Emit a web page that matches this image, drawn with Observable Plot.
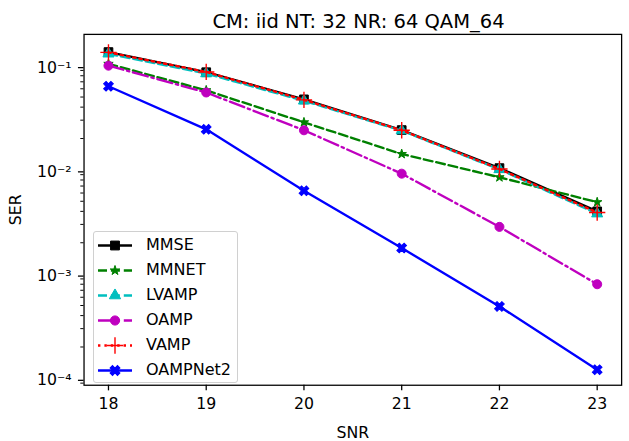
<!DOCTYPE html>
<html><head><meta charset="utf-8">
<script src="https://cdn.jsdelivr.net/npm/d3@7"></script>
<script src="https://cdn.jsdelivr.net/npm/@observablehq/plot@0.6"></script>
<style>
body{margin:0;background:#fff;width:629px;height:441px;overflow:hidden;position:relative;font-family:"DejaVu Sans",sans-serif;}
#title{position:absolute;left:85px;width:547px;top:12px;text-align:center;font-size:19.5px;line-height:19.5px;color:#000;white-space:nowrap;}
#chart{position:absolute;left:0;top:28px;}
#chart svg{display:block;}
#legend{position:absolute;left:93px;top:231px;width:143px;height:150px;border:1px solid #d0d0d0;border-radius:3px;background:rgba(255,255,255,0.8);}
.row{position:absolute;left:0;height:25px;width:143px;}
.row svg{position:absolute;left:0;top:0;}
.row span{position:absolute;left:52px;top:2px;font-size:16px;line-height:20px;color:#000;}
</style></head><body>
<div id="title">CM: iid NT: 32 NR: 64 QAM_64</div>
<div id="chart"></div>
<div id="legend"></div>
<script>
// ---- data ----
const snr = [18, 19, 20, 21, 22, 23];
const seriesNames = ["MMSE", "MMNET", "LVAMP", "OAMP", "VAMP", "OAMPNet2"];
const mmse     = [0.135, 0.0865, 0.0475, 0.0241, 0.0104, 0.0040];
const mmnet    = [0.104, 0.058, 0.0286, 0.0142, 0.0085, 0.0049];
const lvamp    = [0.130, 0.084, 0.046, 0.0238, 0.0101, 0.0038];
const oamp     = [0.100, 0.0553, 0.0240, 0.0092, 0.00284, 0.00080];
const vamp     = [0.134, 0.087, 0.047, 0.0240, 0.0102, 0.0039];
const oampnet2 = [0.0634, 0.0245, 0.0063, 0.00178, 0.00049, 0.000121];
const xTicks = [18, 19, 20, 21, 22, 23];
const yTicks = [1e-4, 1e-3, 1e-2, 1e-1];
const yTickLabels = ["10⁻⁴", "10⁻³", "10⁻²", "10⁻¹"];

// ---- styles ----
const styles = [
  {color: "#000000", dash: null,            symbol: "square",   r: 5.0, fill: true},
  {color: "#008000", dash: "9,3.9",         symbol: "star",     r: 3.0, fill: true},
  {color: "#00bfbf", dash: "9,3.9",         symbol: "triangle", r: 4.2, fill: true},
  {color: "#bf00bf", dash: "15.6,3.9,2.4,3.9", symbol: "circle", r: 4.6, fill: true},
  {color: "#ff0000", dash: "2.4,4",         symbol: "plus",     r: 5.4, fill: false},
  {color: "#0000ff", dash: null,            symbol: "cross",    r: 4.4, fill: true, rotate: 45}
];
const allValues = [mmse, mmnet, lvamp, oamp, vamp, oampnet2];

const marks = [];
seriesNames.forEach((name, i) => {
  const rows = snr.map((s, j) => ({series: name, snr: s, ser: allValues[i][j]}));
  const st = styles[i];
  marks.push(Plot.line(rows, {x: "snr", y: "ser", stroke: st.color, strokeWidth: 2.4,
    strokeDasharray: st.dash ?? undefined}));
  marks.push(Plot.dot(rows, {x: "snr", y: "ser", symbol: st.symbol, r: st.r,
    fill: st.fill ? st.color : "none", stroke: st.color, strokeWidth: st.fill ? 1 : 1.4,
    rotate: st.rotate ?? 0}));
});

const minorTicks = [];
for (let e = -5; e <= -1; e++) for (let m = 2; m <= 9; m++) {
  const v = m * Math.pow(10, e);
  if (v > Math.pow(10, -4.066) && v < Math.pow(10, -0.70)) minorTicks.push(v);
}

const chart = Plot.plot({
  width: 640, height: 413,
  marginLeft: 85, marginRight: 8, marginTop: 6, marginBottom: 50,
  style: {fontFamily: "DejaVu Sans", fontSize: "16px", background: "transparent", color: "#000", overflow: "visible"},
  x: {domain: [17.75, 23.25]},
  y: {type: "log", domain: [Math.pow(10, -4.066), Math.pow(10, -0.70)]},
  marks: [
    ...marks,
    Plot.axisX({ticks: xTicks, tickFormat: d => String(d), tickSize: 5.7, tickPadding: 7, strokeWidth: 1.3,
      fontSize: 16, label: "SNR", labelAnchor: "center", labelArrow: "none", labelOffset: 54}),
    Plot.axisY({ticks: yTicks, tickFormat: d => yTickLabels[yTicks.indexOf(d)], tickSize: 5.7, tickPadding: 7,
      strokeWidth: 1.3, fontSize: 16, dy: 2, label: "SER", labelAnchor: "center", labelArrow: "none", labelOffset: 76}),
    Plot.axisY({ticks: minorTicks, tickFormat: () => "", tickSize: 3.3, strokeWidth: 1, label: null}),
    Plot.frame({stroke: "#000", strokeWidth: 1.3})
  ]
});
document.getElementById("chart").appendChild(chart);

// ---- legend ----
const symMap = {square: d3.symbolSquare, star: d3.symbolStar, triangle: d3.symbolTriangle,
  circle: d3.symbolCircle, plus: d3.symbolPlus, cross: d3.symbolCross};
const legend = d3.select("#legend");
seriesNames.forEach((name, i) => {
  const st = styles[i];
  const row = legend.append("div").attr("class", "row").style("top", (i * 25 + 0.5) + "px");
  const svg = row.append("svg").attr("width", 50).attr("height", 25);
  svg.append("line").attr("x1", 4).attr("x2", 38).attr("y1", 12.5).attr("y2", 12.5)
    .attr("stroke", st.color).attr("stroke-width", 2.4).attr("stroke-dasharray", st.dash);
  svg.append("path").attr("d", d3.symbol(symMap[st.symbol], Math.PI * st.r * st.r)())
    .attr("transform", `translate(21,12.5) rotate(${st.rotate ?? 0})`)
    .attr("fill", st.fill ? st.color : "none").attr("stroke", st.color)
    .attr("stroke-width", st.fill ? 1 : 1.4);
  row.append("span").text(name);
});
</script>
</body></html>
